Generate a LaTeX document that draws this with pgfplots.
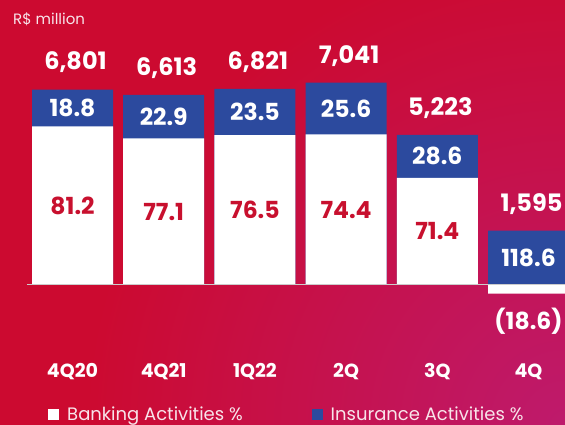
\documentclass[border=0pt]{standalone}
\usepackage{pgfplots}
\pgfplotsset{compat=1.18}
\usepackage{fontspec}
\setmainfont{Poppins}
\definecolor{bgred}{HTML}{CC0A30}
\definecolor{bgmag}{HTML}{BE1A6C}
\definecolor{barblue}{HTML}{2C4A9E}
\definecolor{txtred}{HTML}{C8102E}
\definecolor{softwhite}{HTML}{F8E4EA}
\begin{document}
\begin{tikzpicture}
\fill[bgred] (0,0) rectangle (565pt,425pt);
\begin{scope}
\clip (0,0) rectangle (565pt,425pt);
\shade[inner color=bgmag, outer color=bgred] (565pt,0pt) circle (480pt);
\end{scope}
\begin{axis}[
  at={(0,0)}, anchor=south west,
  width=565pt, height=425pt, scale only axis,
  xmin=-0.795, xmax=5.4, ymin=-4871, ymax=9916,
  axis line style={draw=none}, tick style={draw=none},
  ytick=\empty, xtick={0,...,5},
  xticklabels={4Q20,4Q21,1Q22,2Q,3Q,4Q},
  xticklabel style={font=\bfseries\fontsize{19}{19}\selectfont, text=white, anchor=base, yshift=47pt},
  bar width=81pt, bar shift=0pt,
  clip=true,
  legend columns=2,
  legend style={at={(rel axis cs:0.085,0.025)}, anchor=west, draw=none, fill=none, inner sep=0pt,
    font=\fontsize{18}{18}\selectfont, text=softwhite,
    /tikz/every even column/.append style={column sep=67pt}},
  legend cell align=left,
]
\addplot[ybar, fill=barblue, draw=none, forget plot] coordinates {(0,6801)(1,6613)(2,6821)(3,7041)(4,5223)(5,1891.7)};
\addplot[ybar, fill=white, draw=none, forget plot] coordinates {(0,5522.4)(1,5098.6)(2,5218.1)(3,5238.5)(4,3729.2)(5,-296.7)};
\addplot[sharp plot, draw=black!20, line width=1pt, mark=none, forget plot] coordinates {(-0.499,0)(5.5,0)};
\addlegendimage{legend image code/.code={\fill[white,draw=none] (0pt,-5.5pt) rectangle (11pt,5.5pt); \path[draw=none,fill=none] (17pt,0pt);}}
\addlegendentry{Banking Activities \%}
\addlegendimage{legend image code/.code={\fill[barblue,draw=none] (0pt,-5.5pt) rectangle (11pt,5.5pt); \path[draw=none,fill=none] (17pt,0pt);}}
\addlegendentry{Insurance Activities \%}
% totals
\begin{scope}[every node/.style={font=\bfseries\fontsize{24}{24}\selectfont, text=white, xshift=3pt}]
\node at (axis cs:0,7741) {6,801};
\node at (axis cs:1,7553) {6,613};
\node at (axis cs:2,7761) {6,821};
\node at (axis cs:3,7981) {7,041};
\node at (axis cs:4,6163) {5,223};
\node at (axis cs:5,2832) {1,595};
\end{scope}
% insurance %
\begin{scope}[every node/.style={font=\bfseries\fontsize{23.5}{23.5}\selectfont, text=white}]
\node at (axis cs:0,6161.7) {18.8};
\node at (axis cs:1,5855.8) {22.9};
\node at (axis cs:2,6019.6) {23.5};
\node at (axis cs:3,6139.8) {25.6};
\node at (axis cs:4,4476.1) {28.6};
\node at (axis cs:5,945.9) {118.6};
\node at (axis cs:5,-1253) {(18.6)};
\end{scope}
% banking %
\begin{scope}[every node/.style={font=\bfseries\fontsize{23.5}{23.5}\selectfont, text=txtred}]
\node at (axis cs:0,2761.2) {81.2};
\node at (axis cs:1,2549.3) {77.1};
\node at (axis cs:2,2609) {76.5};
\node at (axis cs:3,2619.3) {74.4};
\node at (axis cs:4,1864.6) {71.4};
\end{scope}
\end{axis}
\node[anchor=base west, inner sep=0pt, text=softwhite, font=\fontsize{15}{15}\selectfont] at (13pt,400pt) {R\$ million};
\pgfresetboundingbox
\useasboundingbox (0,0) rectangle (565pt,425pt);
\end{tikzpicture}
\end{document}
